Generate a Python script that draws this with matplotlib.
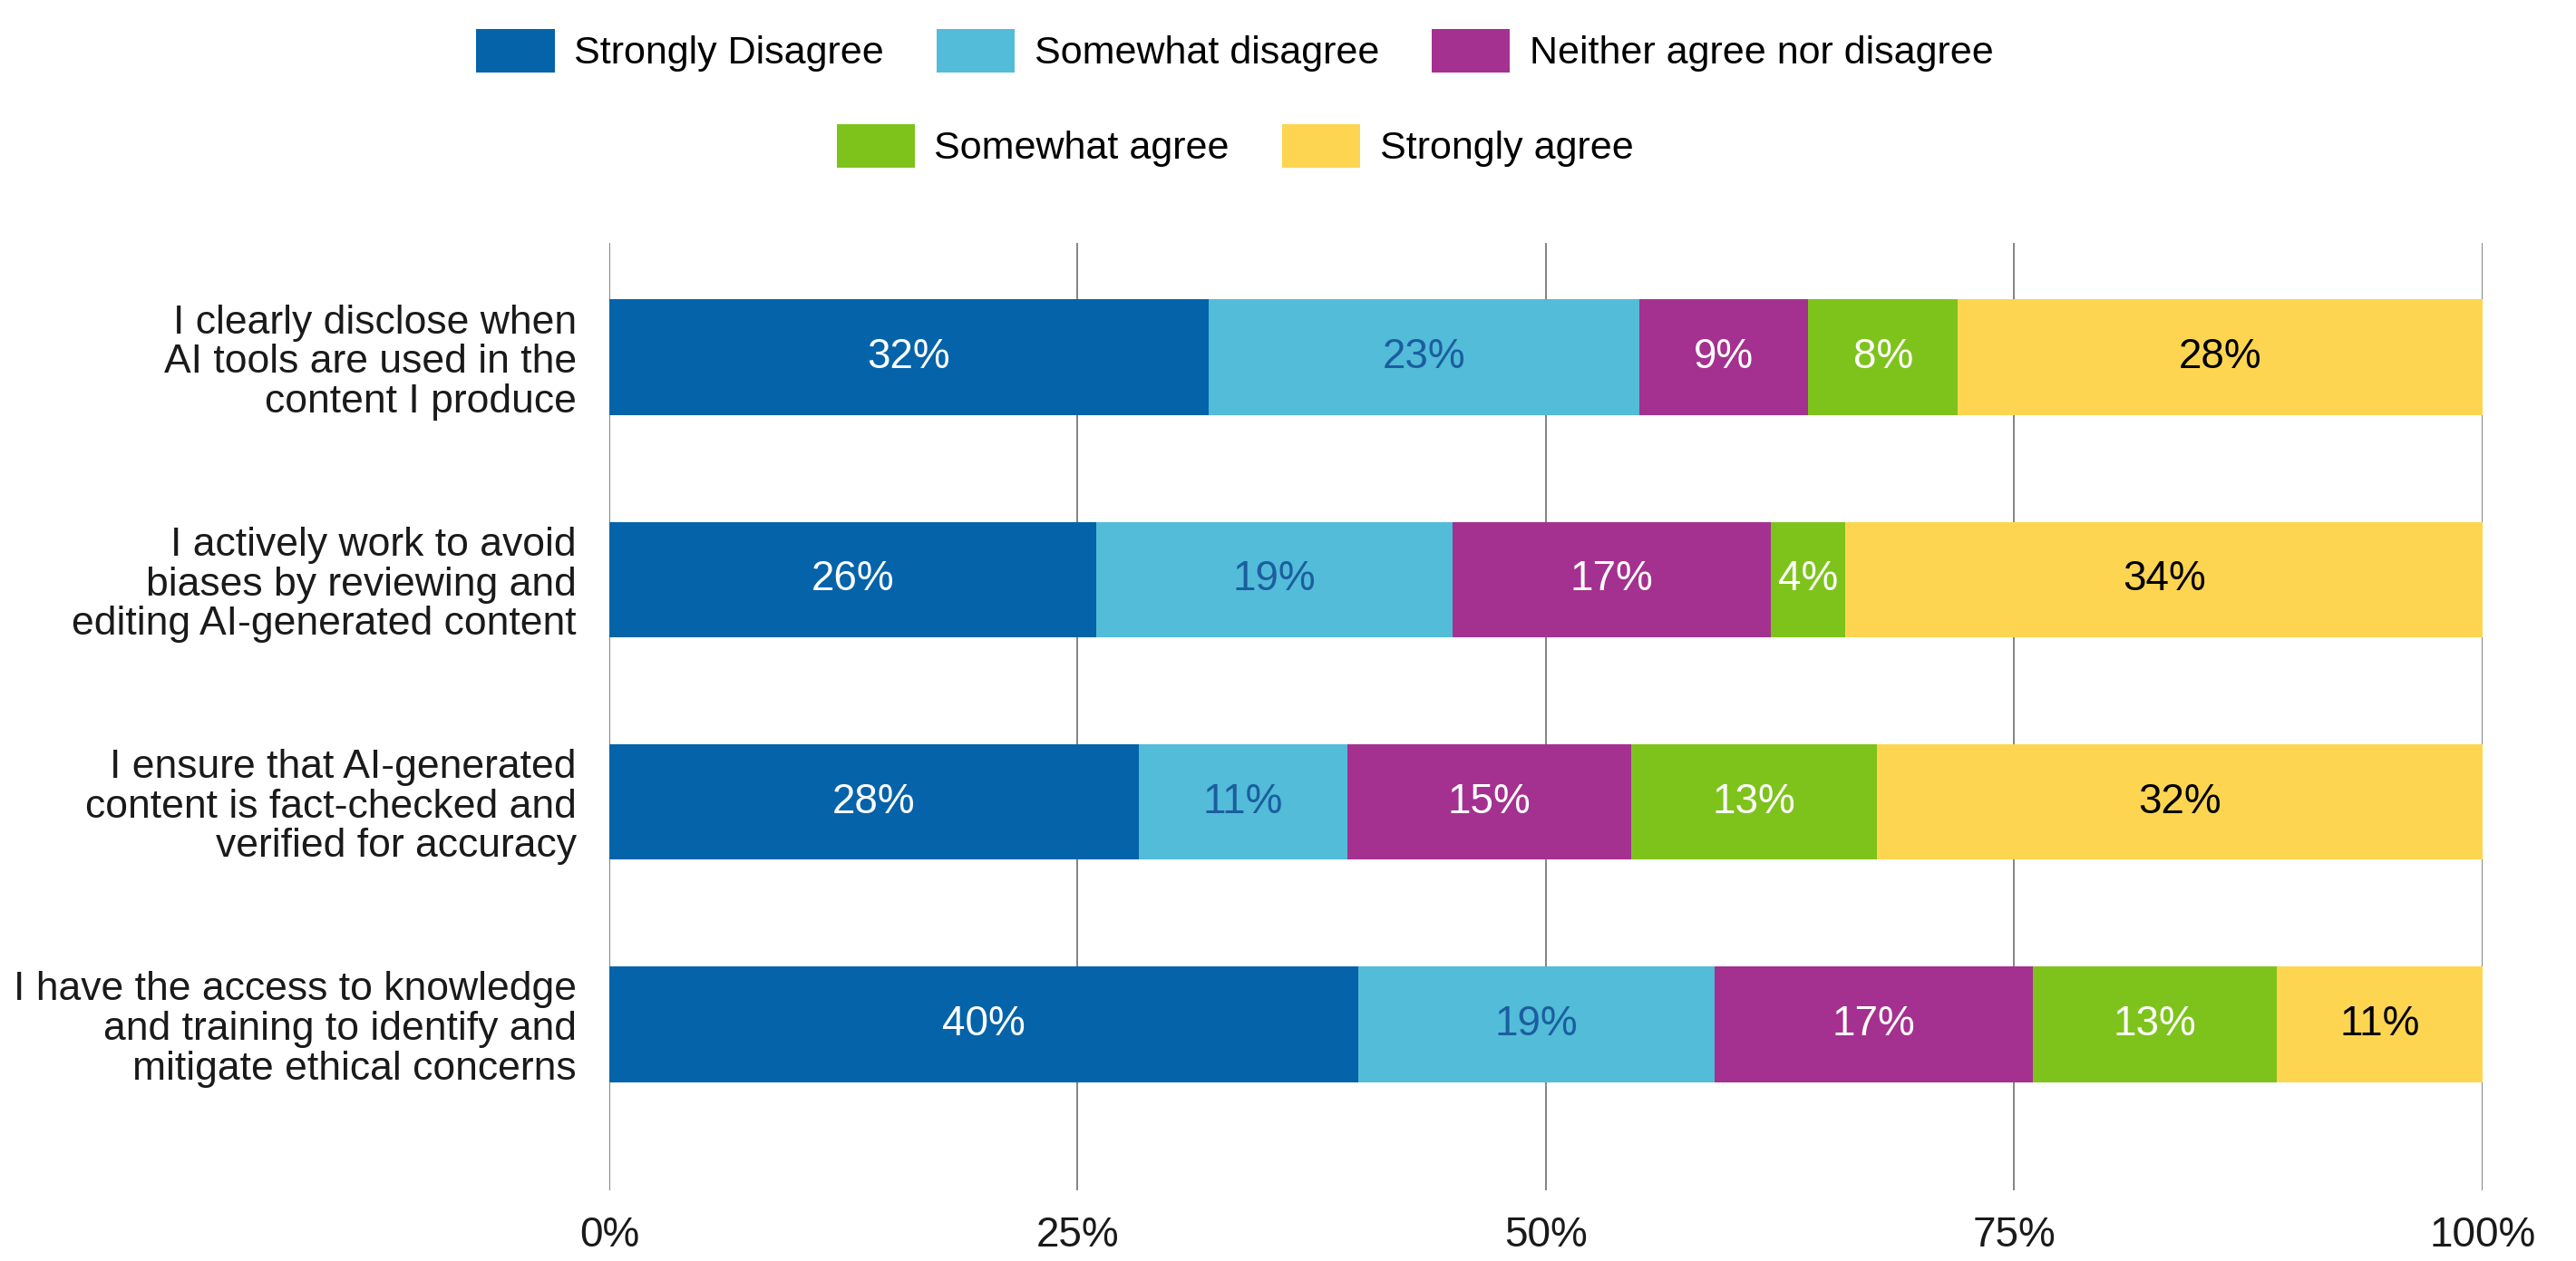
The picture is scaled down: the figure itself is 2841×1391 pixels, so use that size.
import numpy as np
import matplotlib
matplotlib.use("Agg")
import matplotlib.pyplot as plt
from matplotlib.patches import Patch

plt.rcParams["font.family"] = ["Liberation Sans", "DejaVu Sans"]

# Survey statements (top to bottom)
statements = [
    "I clearly disclose when\nAI tools are used in the\ncontent I produce",
    "I actively work to avoid\nbiases by reviewing and\nediting AI-generated content",
    "I ensure that AI-generated\ncontent is fact-checked and\nverified for accuracy",
    "I have the access to knowledge\nand training to identify and\nmitigate ethical concerns",
]

responses = [
    "Strongly Disagree",
    "Somewhat disagree",
    "Neither agree nor disagree",
    "Somewhat agree",
    "Strongly agree",
]

# Percentage of respondents per answer, one list per response level
strongly_disagree = [32, 26, 28, 40]
somewhat_disagree = [23, 19, 11, 19]
neither = [9, 17, 15, 17]
somewhat_agree = [8, 4, 13, 13]
strongly_agree = [28, 34, 32, 11]

x_ticks = [0, 25, 50, 75, 100]
x_tick_labels = ["0%", "25%", "50%", "75%", "100%"]

colors = ["#0563A9", "#52BCD9", "#A4318F", "#7EC31C", "#FDD551"]
label_colors = ["white", "#1B5E9E", "white", "white", "black"]

series = np.array([strongly_disagree, somewhat_disagree, neither,
                   somewhat_agree, strongly_agree], dtype=float)
# Each row is shown as a 100% stacked bar
shares = series / series.sum(axis=0) * 100

fig = plt.figure(figsize=(28.41, 13.91), dpi=100)
ax = fig.add_axes([0.2365, 0.0561, 0.7272, 0.7512])

y = np.arange(len(statements))
left = np.zeros(len(statements))
for i, name in enumerate(responses):
    ax.barh(y, shares[i], left=left, height=0.52, color=colors[i],
            label=name, zorder=3)
    for j in range(len(statements)):
        ax.text(left[j] + shares[i][j] / 2, y[j], f"{int(series[i][j])}%",
                ha="center", va="center", fontsize=33,
                color=label_colors[i], zorder=4)
    left += shares[i]

ax.set_xlim(0, 100)
ax.set_ylim(3.747, -0.514)
ax.set_yticks(y)
ax.set_yticklabels(statements, fontsize=32, linespacing=1.08, color="#1a1a1a")
ax.set_xticks(x_ticks)
ax.set_xticklabels(x_tick_labels, fontsize=33, color="#1a1a1a")
ax.tick_params(axis="both", length=0)
ax.tick_params(axis="y", pad=26)
ax.tick_params(axis="x", pad=20)
for side in ax.spines.values():
    side.set_visible(False)
ax.grid(axis="x", color="#7a7a7a", linewidth=1.3, zorder=0)
ax.set_axisbelow(True)

# Two-row centered legend
handles = [Patch(facecolor=c, edgecolor="none") for c in colors]
common = dict(frameon=False, fontsize=31, handlelength=2.0, handleheight=1.35,
              handletextpad=0.5, columnspacing=1.35, borderaxespad=0,
              borderpad=0)
leg1 = fig.legend(handles[:3], responses[:3], ncol=3, loc="center",
                  bbox_to_anchor=(0.4794, 1 - 56 / 1391), **common)
leg2 = fig.legend(handles[3:], responses[3:], ncol=2, loc="center",
                  bbox_to_anchor=(0.4794, 1 - 161 / 1391), **common)

fig.savefig("out.png", dpi=100, facecolor="white")
